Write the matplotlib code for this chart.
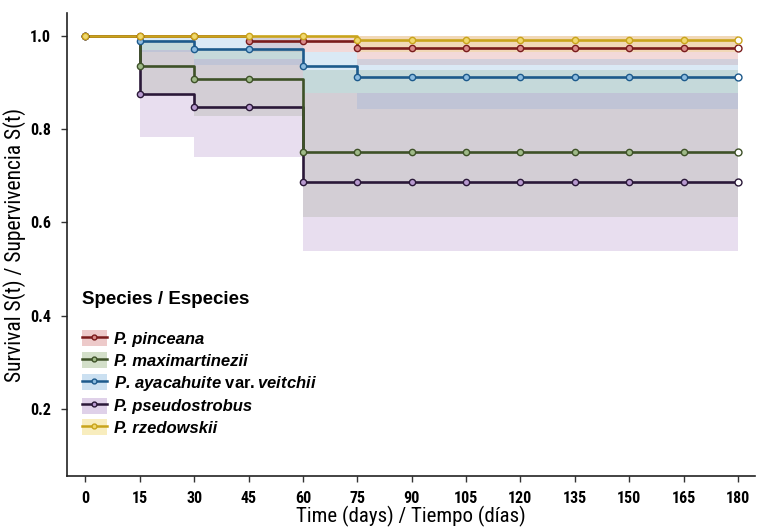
import matplotlib
matplotlib.use("Agg")
import matplotlib.pyplot as plt
from matplotlib.patches import Patch
from matplotlib.lines import Line2D

days = [0, 15, 30, 45, 60, 75, 90, 105, 120, 135, 150, 165, 180]
species = ["P. pinceana", "P. maximartinezii", "P. ayacahuite var. veitchii",
           "P. pseudostrobus", "P. rzedowskii"]
pinceana = [1.0, 1.0, 1.0, 0.989, 0.989, 0.974, 0.974, 0.974, 0.974, 0.974, 0.974, 0.974, 0.974]
pinceana_lo = [1.0, 1.0, 1.0, 0.965, 0.965, 0.938, 0.938, 0.938, 0.938, 0.938, 0.938, 0.938, 0.938]
pinceana_hi = [1.0] * 13
maximartinezii = [1.0, 0.935, 0.908, 0.908, 0.750, 0.750, 0.750, 0.750, 0.750, 0.750, 0.750, 0.750, 0.750]
maximartinezii_lo = [1.0, 0.878, 0.827, 0.827, 0.611, 0.611, 0.611, 0.611, 0.611, 0.611, 0.611, 0.611, 0.611]
maximartinezii_hi = [1.0, 0.99, 0.97, 0.97, 0.927, 0.927, 0.927, 0.927, 0.927, 0.927, 0.927, 0.927, 0.927]
ayacahuite = [1.0, 0.989, 0.972, 0.972, 0.934, 0.912, 0.912, 0.912, 0.912, 0.912, 0.912, 0.912, 0.912]
ayacahuite_lo = [1.0, 0.964, 0.938, 0.938, 0.878, 0.842, 0.842, 0.842, 0.842, 0.842, 0.842, 0.842, 0.842]
ayacahuite_hi = [1.0, 1.0, 1.0, 1.0, 0.964, 0.95, 0.95, 0.95, 0.95, 0.95, 0.95, 0.95, 0.95]
pseudostrobus = [1.0, 0.875, 0.847, 0.847, 0.686, 0.686, 0.686, 0.686, 0.686, 0.686, 0.686, 0.686, 0.686]
pseudostrobus_lo = [1.0, 0.782, 0.741, 0.741, 0.538, 0.538, 0.538, 0.538, 0.538, 0.538, 0.538, 0.538, 0.538]
pseudostrobus_hi = [1.0, 0.97, 0.95, 0.95, 0.878, 0.878, 0.878, 0.878, 0.878, 0.878, 0.878, 0.878, 0.878]
rzedowskii = [1.0, 1.0, 1.0, 1.0, 1.0, 0.990, 0.990, 0.990, 0.990, 0.990, 0.990, 0.990, 0.990]
rzedowskii_lo = [1.0, 1.0, 1.0, 1.0, 1.0, 0.965, 0.965, 0.965, 0.965, 0.965, 0.965, 0.965, 0.965]
rzedowskii_hi = [1.0] * 13
x_ticks = days
y_ticks = [0.2, 0.4, 0.6, 0.8, 1.0]

series = [
    (pinceana, pinceana_lo, pinceana_hi, "#7a1c1c", "#d98a8a"),
    (maximartinezii, maximartinezii_lo, maximartinezii_hi, "#3e5128", "#9fba88"),
    (ayacahuite, ayacahuite_lo, ayacahuite_hi, "#1d5a8c", "#8cbce0"),
    (pseudostrobus, pseudostrobus_lo, pseudostrobus_hi, "#2a1838", "#b89ad0"),
    (rzedowskii, rzedowskii_lo, rzedowskii_hi, "#c9a41c", "#f0d870"),
]

plt.rcParams["mathtext.fontset"] = "custom"
plt.rcParams["mathtext.bf"] = "Liberation Sans:bold"
plt.rcParams["mathtext.rm"] = "Liberation Sans"
plt.rcParams["mathtext.it"] = "Liberation Sans:italic:bold"

tick_font = ["Roboto Condensed", "Fira Sans Condensed", "DejaVu Sans"]
label_font = ["Roboto Condensed", "Archivo Narrow", "DejaVu Sans"]

fig = plt.figure(figsize=(7.59, 5.29), dpi=100)
ax = fig.add_axes([0.0877, 0.100, 0.907, 0.875])

for (vals, lo, hi, lc, fc) in series:
    ax.fill_between(days, lo, hi, step="post", color=fc, alpha=0.32, linewidth=0)

order = [3, 1, 2, 0, 4]
for i in order:
    vals, lo, hi, lc, fc = series[i]
    ax.step(days, vals, where="post", color=lc, linewidth=1.9, zorder=3)
    ax.plot(days[:-1], vals[:-1], linestyle="none", marker="o", markersize=4.5,
            markerfacecolor=fc, markeredgecolor=lc, markeredgewidth=1.0, zorder=4)
    ax.plot(days[-1:], vals[-1:], linestyle="none", marker="o", markersize=5,
            markerfacecolor="white", markeredgecolor=lc, markeredgewidth=1.0, zorder=4)

handles = []
for (vals, lo, hi, lc, fc) in series:
    p = Patch(facecolor=fc, alpha=0.45, edgecolor="none")
    l = Line2D([0], [0], color=lc, linewidth=1.8, marker="o", markersize=3.5,
               markerfacecolor=fc, markeredgecolor=lc)
    handles.append((p, l))

labels = ["P. pinceana", "P. maximartinezii",
          r"P. ayacahuite $\mathbf{var.}$veitchii",
          "P. pseudostrobus", "P. rzedowskii"]

leg = ax.legend(handles, labels, loc="upper left", bbox_to_anchor=(0.005, 0.425),
                frameon=False, title="Species / Especies",
                prop={"family": "Liberation Sans", "size": 12, "style": "italic", "weight": "bold"},
                handlelength=1.5, handleheight=1.1, handletextpad=0.45,
                labelspacing=0.3, borderaxespad=0.3, alignment="left")
leg.get_title().set_fontfamily("Liberation Sans")
leg.get_title().set_fontweight("bold")
leg.get_title().set_fontsize(13.5)
leg._legend_box.sep = 16

ax.set_xlim(-5.2, 184.7)
ax.set_ylim(0.0563, 1.048)
ax.set_xticks(x_ticks)
ax.set_xticklabels([str(d) for d in x_ticks], fontfamily=tick_font, fontweight="bold", fontsize=11.5)
ax.set_yticks(y_ticks)
ax.set_yticklabels(["%.1f" % v for v in y_ticks], fontfamily=tick_font, fontweight="bold", fontsize=11.5)
ax.tick_params(direction="out", length=4, width=1, color="#333333", pad=7)

for s in ["top", "right"]:
    ax.spines[s].set_visible(False)
for s in ["left", "bottom"]:
    ax.spines[s].set_color("#222222")
    ax.spines[s].set_linewidth(1.2)

ax.set_xlabel("Time (days) / Tiempo (días)", fontfamily=label_font, fontsize=15, labelpad=0)
ax.set_ylabel("Survival S(t) / Supervivencia S(t)", fontfamily=label_font, fontsize=15.5, labelpad=3)

fig.savefig("out.png", dpi=100)
